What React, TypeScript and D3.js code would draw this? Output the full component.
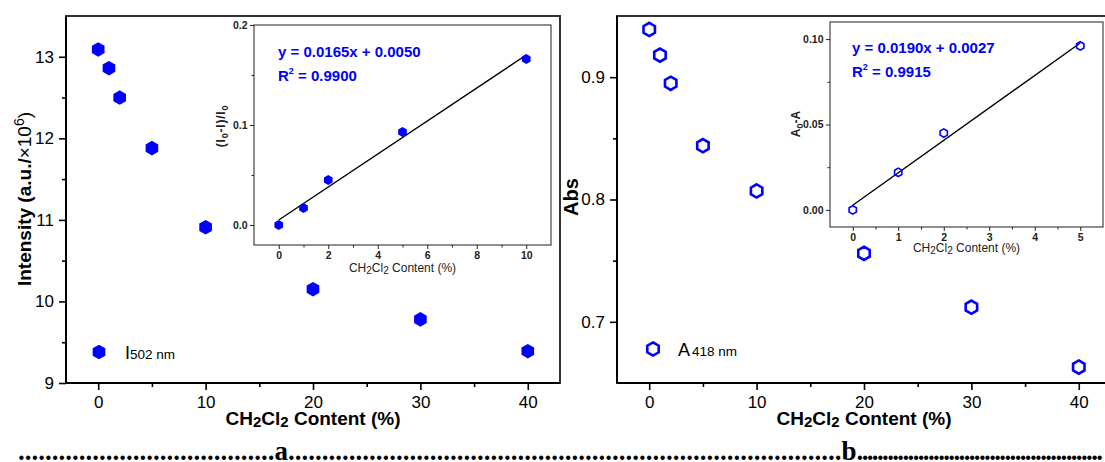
import React, { useEffect, useRef } from "react";
import * as d3 from "d3";

// ---- data ----
const content = [0, 1, 2, 5, 10, 20, 30, 40];
const intensity = [13.09, 12.86, 12.5, 11.88, 10.91, 10.15, 9.78, 9.39];
const absorbance = [0.939, 0.918, 0.895, 0.844, 0.807, 0.756, 0.712, 0.663];

const insetContentA = [0, 1, 2, 5, 10];
const quenchA = [0.0, 0.017, 0.045, 0.093, 0.166];
const fitA = [0.0165, 0.005]; // slope, intercept
const r2A = 0.99;

const insetContentB = [0, 1, 2, 5];
const deltaAbsB = [0.0, 0.022, 0.045, 0.096];
const fitB = [0.019, 0.0027];
const r2B = 0.9915;

const mainXTicks = [0, 10, 20, 30, 40];
const mainXMinor = [5, 15, 25, 35];
const intensityTicks = [9, 10, 11, 12, 13];
const intensityMinor = [9.5, 10.5, 11.5, 12.5];
const absTicks = [0.7, 0.8, 0.9];
const absMinor = [0.75, 0.85];
const insetAXTicks = [0, 2, 4, 6, 8, 10];
const insetAXMinor = [1, 3, 5, 7, 9];
const insetAYTicks = [0, 0.1, 0.2];
const insetAYMinor = [0.05, 0.15];
const insetBXTicks = [0, 1, 2, 3, 4, 5];
const insetBXMinor = [0.5, 1.5, 2.5, 3.5, 4.5];
const insetBYTicks = [0, 0.05, 0.1];
const insetBYMinor = [0.025, 0.075];

const W = 1105;
const H = 462;
const FONT = "Arial, 'Liberation Sans', Helvetica, sans-serif";
const SERIF = "'Times New Roman', 'Liberation Serif', serif";
const BLUE = "#0000ff";

// pointy-top hexagon
const hexPath = (r: number) => {
  const pts = d3.range(6).map((i) => {
    const a = (Math.PI / 3) * i - Math.PI / 2;
    return [r * Math.cos(a), r * Math.sin(a)] as [number, number];
  });
  return d3.line()(pts) + "Z";
};

function drawAxis(g: any, kind: "bottom" | "left", scale: any, at: number, major: number[], minor: number[], o: any) {
  const mk = kind === "bottom" ? d3.axisBottom : d3.axisLeft;
  const tr = kind === "bottom" ? `translate(0,${at})` : `translate(${at},0)`;
  const gMaj = g
    .append("g")
    .attr("transform", tr)
    .call(mk(scale).tickValues(major).tickSize(o.len).tickPadding(o.pad).tickFormat(o.fmt));
  gMaj.select(".domain").remove();
  gMaj.selectAll("line").attr("stroke", o.color).attr("stroke-width", o.sw);
  gMaj
    .selectAll("text")
    .attr("fill", o.color)
    .style("font-family", FONT)
    .style("font-size", o.fs + "px")
    .style("font-weight", o.fw);
  const gMin = g
    .append("g")
    .attr("transform", tr)
    .call(mk(scale).tickValues(minor).tickSize(o.minLen).tickFormat(() => ""));
  gMin.select(".domain").remove();
  gMin.selectAll("line").attr("stroke", o.color).attr("stroke-width", o.sw);
}

export default function App() {
  const ref = useRef<SVGSVGElement>(null);

  useEffect(() => {
    const svg = d3.select(ref.current);
    svg.selectAll("*").remove();
    svg.append("rect").attr("width", W).attr("height", H).attr("fill", "#fff");

    const mainOpts = { len: 7, minLen: 4, pad: 5, color: "#000", sw: 1.6, fs: 17, fw: "normal" };
    const insetOpts = { len: 4, minLen: 2.5, pad: 2.5, color: "#222", sw: 1, fs: 10.5, fw: "bold" };

    // ---------- panel a ----------
    const xA = d3.scaleLinear().domain([-3, 43]).range([66, 560]);
    const yA = d3.scaleLinear().domain([9, 13.5]).range([383, 16]);
    const gA = svg.append("g");
    gA.append("rect")
      .attr("x", 66).attr("y", 16).attr("width", 560 - 66).attr("height", 383 - 16)
      .attr("fill", "none").attr("stroke", "#333").attr("stroke-width", 2);
    gA.append("line").attr("x1", 66).attr("x2", 66).attr("y1", 16).attr("y2", 383).attr("stroke", "#000").attr("stroke-width", 2);
    gA.append("line").attr("x1", 66).attr("x2", 560).attr("y1", 383).attr("y2", 383).attr("stroke", "#000").attr("stroke-width", 2);
    drawAxis(gA, "bottom", xA, 383, mainXTicks, mainXMinor, { ...mainOpts, pad: 6, fmt: d3.format("d") });
    drawAxis(gA, "left", yA, 66, intensityTicks, intensityMinor, { ...mainOpts, fmt: d3.format("d") });

    gA.selectAll("path.pt")
      .data(content)
      .join("path")
      .attr("d", hexPath(7.3))
      .attr("transform", (d, i) => `translate(${xA(d)},${yA(intensity[i])})`)
      .attr("fill", BLUE);

    // y title
    const ytA = gA.append("text")
      .attr("transform", "translate(31,199) rotate(-90)")
      .attr("text-anchor", "middle")
      .style("font-family", FONT)
      .style("font-size", "19px");
    ytA.append("tspan").style("font-weight", "bold").text("Intensity (a.u./");
    ytA.append("tspan").text("\u00d710");
    ytA.append("tspan").attr("dy", -7).style("font-size", "14px").text("6");
    ytA.append("tspan").attr("dy", 7).text(")");

    const xTitle = (g: any, cx: number) => {
      const t = g.append("text")
        .attr("x", cx).attr("y", 424.5)
        .attr("text-anchor", "middle")
        .style("font-family", FONT)
        .style("font-size", "19px")
        .style("font-weight", "bold");
      t.append("tspan").text("CH");
      t.append("tspan").attr("dy", 2).style("font-size", "15px").text("2");
      t.append("tspan").attr("dy", -2).text("Cl");
      t.append("tspan").attr("dy", 2).style("font-size", "15px").text("2");
      t.append("tspan").attr("dy", -2).text(" Content (%)");
    };
    xTitle(gA, xA(20));

    // legend a
    gA.append("path").attr("d", hexPath(7.3)).attr("transform", "translate(99,352)").attr("fill", BLUE);
    const lgA = gA.append("text").attr("x", 125).attr("y", 358.5).style("font-family", FONT);
    lgA.append("tspan").style("font-size", "18px").text("I");
    lgA.append("tspan").style("font-size", "13.5px").text("502 nm");

    // ---------- inset a ----------
    const ixA = d3.scaleLinear().domain([-1, 11]).range([254, 551]);
    const iyA = d3.scaleLinear().domain([-0.02, 0.2]).range([245, 25]);
    const giA = svg.append("g");
    giA.append("rect")
      .attr("x", 254).attr("y", 25).attr("width", 551 - 254).attr("height", 245 - 25)
      .attr("fill", "#fff").attr("stroke", "#444").attr("stroke-width", 1.2);
    drawAxis(giA, "bottom", ixA, 245, insetAXTicks, insetAXMinor, { ...insetOpts, pad: 3, fmt: d3.format("d") });
    drawAxis(giA, "left", iyA, 254, insetAYTicks, insetAYMinor, { ...insetOpts, fmt: d3.format(".1f") });
    giA.append("line")
      .attr("x1", ixA(0)).attr("y1", iyA(fitA[1]))
      .attr("x2", ixA(10)).attr("y2", iyA(fitA[0] * 10 + fitA[1]))
      .attr("stroke", "#000").attr("stroke-width", 1.4);
    giA.selectAll("path.pt")
      .data(insetContentA)
      .join("path")
      .attr("d", hexPath(5))
      .attr("transform", (d, i) => `translate(${ixA(d)},${iyA(quenchA[i])})`)
      .attr("fill", BLUE);

    const eqText = (g: any, x: number, y: number, fit: number[], r2: number) => {
      g.append("text")
        .attr("x", x).attr("y", y)
        .attr("fill", BLUE)
        .style("font-family", FONT).style("font-size", "15px").style("font-weight", "bold")
        .text(`y = ${fit[0].toFixed(4)}x + ${fit[1].toFixed(4)}`);
      const r = g.append("text")
        .attr("x", x).attr("y", y + 24)
        .attr("fill", BLUE)
        .style("font-family", FONT).style("font-size", "15px").style("font-weight", "bold");
      r.append("tspan").text("R");
      r.append("tspan").attr("dy", -7).style("font-size", "9px").text("2");
      r.append("tspan").attr("dy", 7).text(` = ${r2.toFixed(4)}`);
    };
    eqText(giA, 278, 57, fitA, r2A);

    const insetXTitle = (g: any, cx: number, y: number) => {
      const t = g.append("text")
        .attr("x", cx).attr("y", y)
        .attr("text-anchor", "middle")
        .attr("fill", "#222")
        .style("font-family", FONT).style("font-size", "12px");
      t.append("tspan").text("CH");
      t.append("tspan").attr("dy", 1.5).style("font-size", "10px").text("2");
      t.append("tspan").attr("dy", -1.5).text("Cl");
      t.append("tspan").attr("dy", 1.5).style("font-size", "10px").text("2");
      t.append("tspan").attr("dy", -1.5).text(" Content (%)");
    };
    insetXTitle(giA, ixA(5), 272);

    const ylA = giA.append("text")
      .attr("transform", "translate(225,126) rotate(-90)")
      .attr("text-anchor", "middle")
      .attr("fill", "#222")
      .style("font-family", FONT).style("font-size", "12px").style("font-weight", "bold")
      .style("letter-spacing", "0.8px");
    ylA.append("tspan").text("(I");
    ylA.append("tspan").attr("dy", 3).style("font-size", "9px").text("0");
    ylA.append("tspan").attr("dy", -3).text("-I)/I");
    ylA.append("tspan").attr("dy", 3).style("font-size", "9px").text("0");

    // ---------- panel b ----------
    const xB = d3.scaleLinear().domain([-3, 43]).range([617, 1111]);
    const yB = d3.scaleLinear().domain([0.65, 0.95]).range([383, 16]);
    const gB = svg.append("g");
    gB.append("rect")
      .attr("x", 617).attr("y", 16).attr("width", 1111 - 617).attr("height", 383 - 16)
      .attr("fill", "none").attr("stroke", "#333").attr("stroke-width", 2);
    gB.append("line").attr("x1", 617).attr("x2", 617).attr("y1", 16).attr("y2", 383).attr("stroke", "#000").attr("stroke-width", 2);
    gB.append("line").attr("x1", 617).attr("x2", 1111).attr("y1", 383).attr("y2", 383).attr("stroke", "#000").attr("stroke-width", 2);
    drawAxis(gB, "bottom", xB, 383, mainXTicks, mainXMinor, { ...mainOpts, pad: 6, fmt: d3.format("d") });
    drawAxis(gB, "left", yB, 617, absTicks, absMinor, { ...mainOpts, fmt: d3.format(".1f") });

    gB.selectAll("path.pt")
      .data(content)
      .join("path")
      .attr("d", hexPath(6.6))
      .attr("transform", (d, i) => `translate(${xB(d)},${yB(absorbance[i])})`)
      .attr("fill", "none")
      .attr("stroke", BLUE)
      .attr("stroke-width", 2.6);

    gB.append("text")
      .attr("transform", "translate(578,197) rotate(-90)")
      .attr("text-anchor", "middle")
      .style("font-family", FONT).style("font-size", "20px").style("font-weight", "bold")
      .text("Abs");
    xTitle(gB, xB(20));

    gB.append("path").attr("d", hexPath(6.6)).attr("transform", "translate(653,349)")
      .attr("fill", "none").attr("stroke", BLUE).attr("stroke-width", 2.6);
    const lgB = gB.append("text").attr("x", 678).attr("y", 355.5).style("font-family", FONT);
    lgB.append("tspan").style("font-size", "18px").text("A");
    lgB.append("tspan").attr("dx", 2).style("font-size", "13.5px").text("418 nm");

    // ---------- inset b ----------
    const ixB = d3.scaleLinear().domain([-0.5, 5.5]).range([830, 1103]);
    const iyB = d3.scaleLinear().domain([-0.01, 0.11]).range([227, 22]);
    const giB = svg.append("g");
    giB.append("rect")
      .attr("x", 830).attr("y", 22).attr("width", 1103 - 830).attr("height", 227 - 22)
      .attr("fill", "#fff").attr("stroke", "#444").attr("stroke-width", 1.2);
    drawAxis(giB, "bottom", ixB, 227, insetBXTicks, insetBXMinor, { ...insetOpts, pad: 3, fmt: d3.format("d") });
    drawAxis(giB, "left", iyB, 830, insetBYTicks, insetBYMinor, { ...insetOpts, fmt: d3.format(".2f") });
    giB.append("line")
      .attr("x1", ixB(0)).attr("y1", iyB(fitB[1]))
      .attr("x2", ixB(5)).attr("y2", iyB(fitB[0] * 5 + fitB[1]))
      .attr("stroke", "#000").attr("stroke-width", 1.4);
    giB.selectAll("path.pt")
      .data(insetContentB)
      .join("path")
      .attr("d", hexPath(4.2))
      .attr("transform", (d, i) => `translate(${ixB(d)},${iyB(deltaAbsB[i])})`)
      .attr("fill", "none")
      .attr("stroke", BLUE)
      .attr("stroke-width", 1.6);
    eqText(giB, 852, 53, fitB, r2B);
    insetXTitle(giB, ixB(2.5), 252);

    const ylB = giB.append("text")
      .attr("transform", "translate(800,124) rotate(-90)")
      .attr("text-anchor", "middle")
      .attr("fill", "#222")
      .style("font-family", FONT).style("font-size", "12px").style("font-weight", "bold");
    ylB.append("tspan").text("A");
    ylB.append("tspan").attr("dy", 3).style("font-size", "9px").text("0");
    ylB.append("tspan").attr("dy", -3).text("-A");

    // ---------- dotted caption line ----------
    const cap = svg.append("text")
      .attr("x", 18).attr("y", 459.5)
      .style("font-family", SERIF).style("font-size", "27px").style("font-weight", "bold");
    cap.append("tspan").text(".".repeat(38));
    cap.append("tspan").text("a");
    cap.append("tspan").text(".".repeat(82));
    cap.append("tspan").text("b");
    cap.append("tspan").style("letter-spacing", "-1.65px").text(".".repeat(48));
  }, []);

  return (
    <svg
      ref={ref}
      width={W}
      height={H}
      style={{ position: "absolute", left: 0, top: 0, display: "block" }}
    />
  );
}
